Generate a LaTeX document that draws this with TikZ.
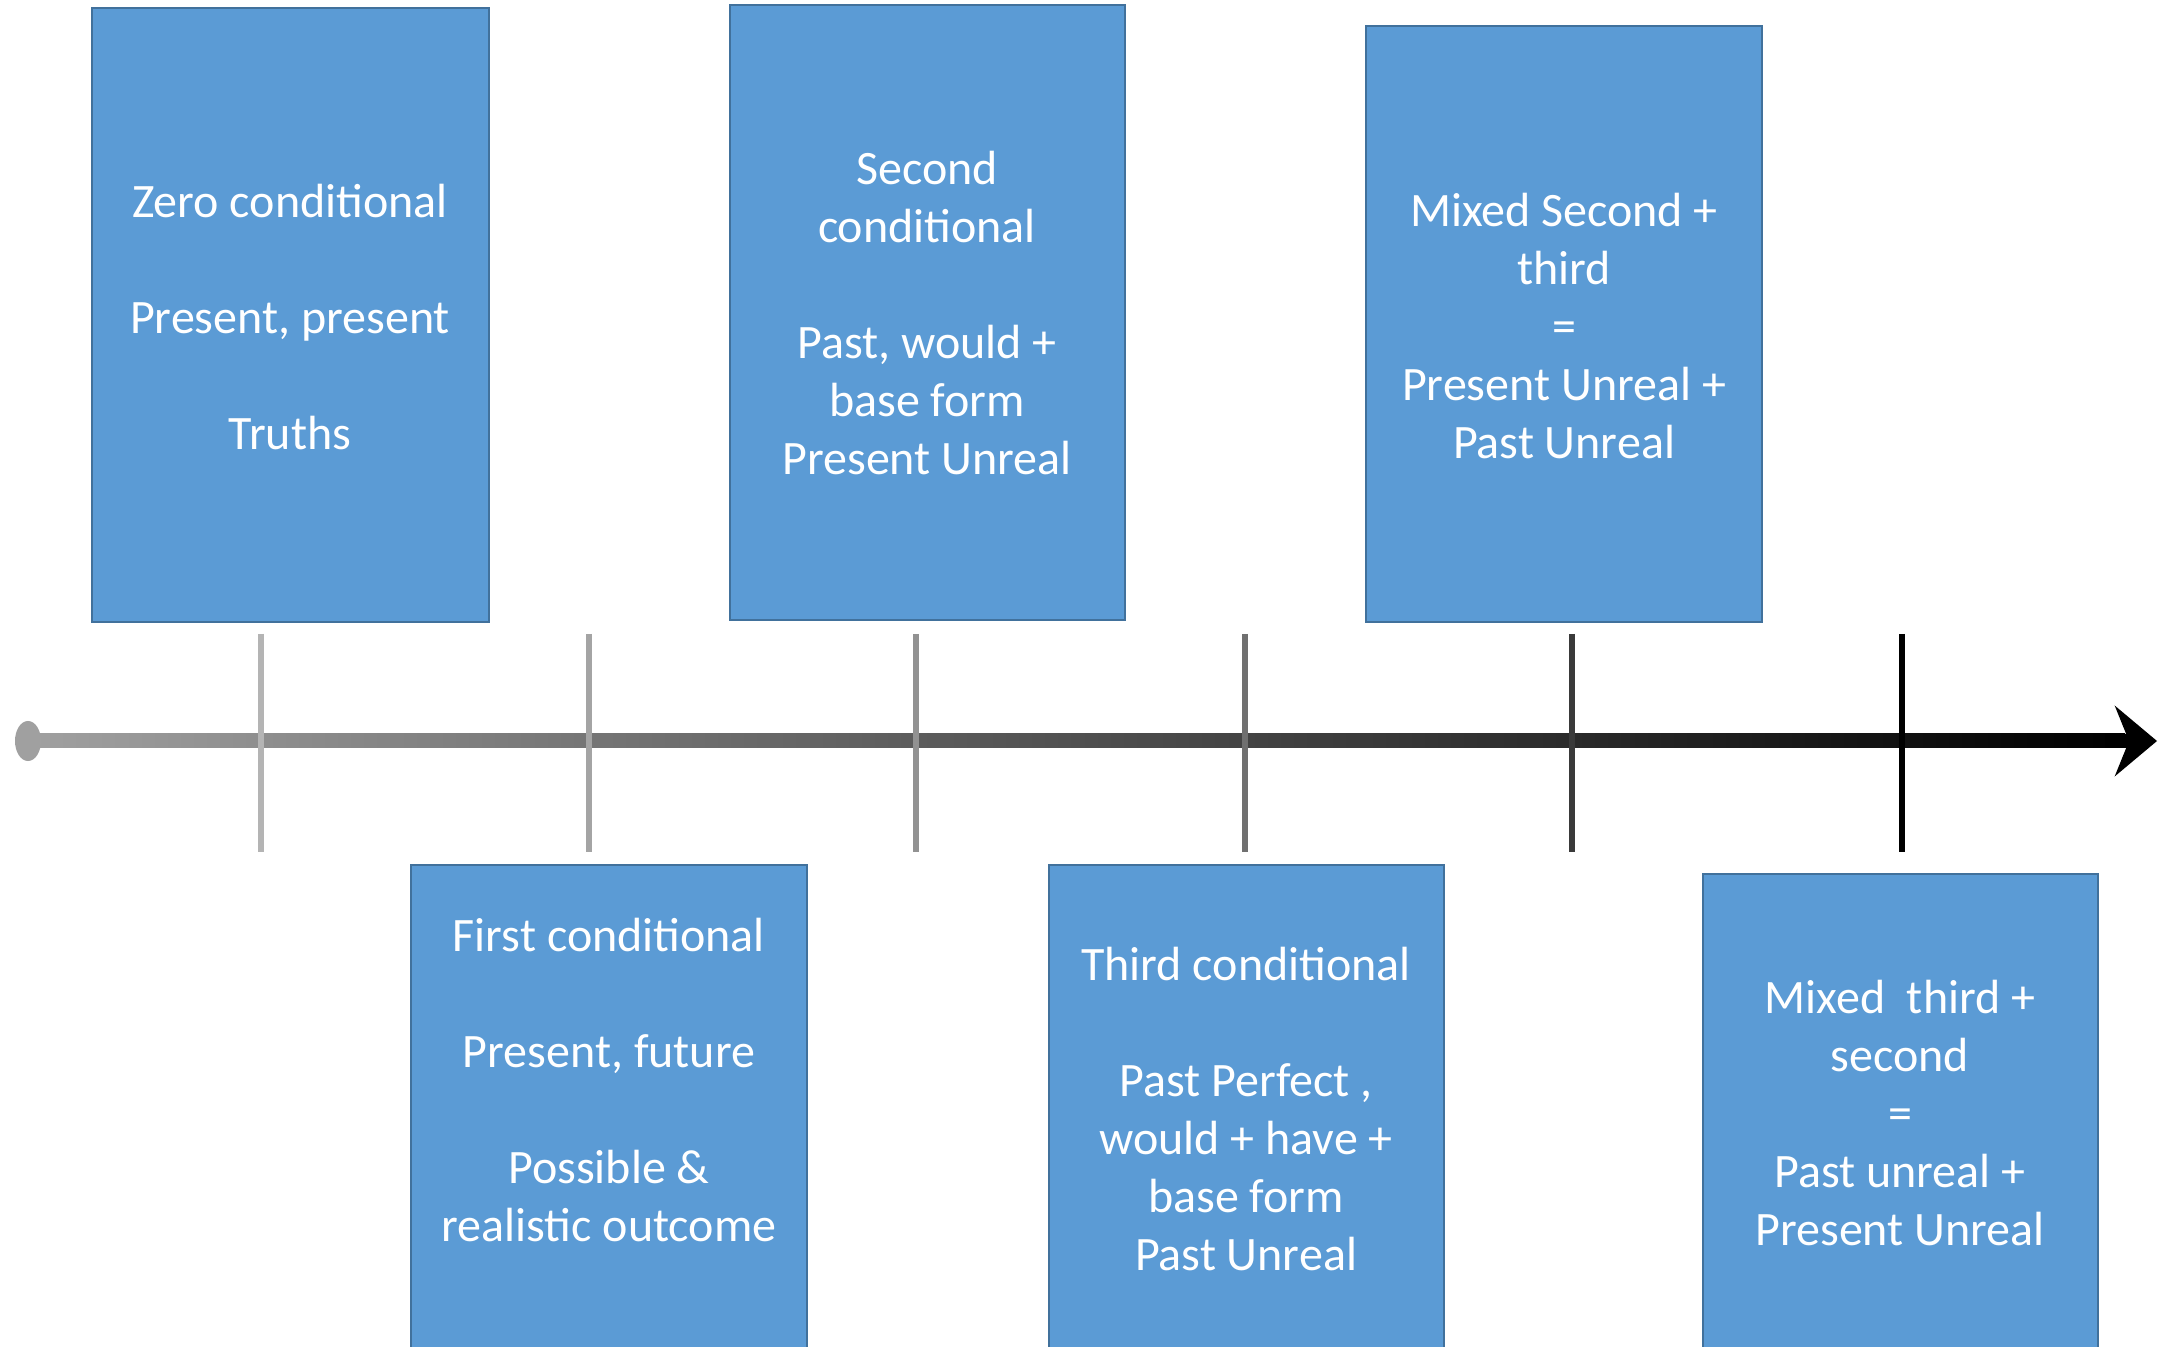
\documentclass[tikz,border=0pt]{standalone}
\usepackage{fontspec}
\setmainfont{Carlito}
\usetikzlibrary{arrows.meta}
\definecolor{boxfill}{HTML}{5B9BD5}
\definecolor{boxline}{HTML}{41719C}
\definecolor{tka}{HTML}{B4B4B4}
\definecolor{tkb}{HTML}{A4A4A4}
\definecolor{tkc}{HTML}{929292}
\definecolor{tkd}{HTML}{707070}
\definecolor{tke}{HTML}{3A3A3A}
\definecolor{tkf}{HTML}{000000}
\definecolor{axl}{HTML}{A0A0A0}
\definecolor{axm}{HTML}{7C7C7C}
\begin{document}
\begin{tikzpicture}[x=0.5pt,y=-0.5pt,
  cbox/.style={draw=boxline,line width=1.2pt,fill=boxfill},
  ctext/.style={text=white,align=center,inner sep=0pt,font=\fontsize{24}{29}\selectfont},
  tickline/.style={line width=3pt}]
\clip (0,0) rectangle (2164,1347);
\fill[white] (0,0) rectangle (2164,1347);
% boxes
\draw[cbox] (92,8) rectangle (489,622);
\draw[cbox] (730,5) rectangle (1125,620);
\draw[cbox] (1366,26) rectangle (1762,622);
\draw[cbox] (411,865) rectangle (807,1370);
\draw[cbox] (1049,865) rectangle (1444,1370);
\draw[cbox] (1703,874) rectangle (2098,1370);
% texts
\node[ctext] (t1) at (290,317) {Zero conditional\\[29pt]Present, present\\[29pt]Truths};
\node[ctext] (t2) at (927,313) {Second\\conditional\\[29pt]Past, would +\\base form\\Present Unreal};
\node[ctext] (t3) at (1564,326) {Mixed Second +\\third\\=\\Present Unreal +\\Past Unreal};
\node[ctext] (t4) at (609,1080) {First conditional\\[29pt]Present, future\\[29pt]Possible \&\\realistic outcome};
\node[ctext] (t5) at (1246,1109) {Third conditional\\[29pt]Past Perfect ,\\would + have +\\base form\\Past Unreal};
\node[ctext] (t6) at (1900,1113) {Mixed~~third +\\second\\=\\Past unreal +\\Present Unreal};
% axis
\coordinate (axL) at (28,741);
\coordinate (axR) at (2157,741);
\shade[left color=axl,middle color=axm,right color=black] (30,734) rectangle (2125,748);
\fill[axl] (axL) ellipse [x radius=13, y radius=20];
\draw[line width=7pt,-{Stealth[length=21pt,width=35pt,inset=7pt]}] (2105,741) -- (axR);
% ticks
\foreach \x/\c/\n in {261/tka/1,589/tkb/2,916/tkc/3,1245/tkd/4,1572/tke/5,1902/tkf/6}{
  \coordinate (tt\n) at (\x,634);
  \coordinate (tb\n) at (\x,852);
  \draw[tickline,draw=\c] (tt\n) -- (tb\n);
}
\end{tikzpicture}
\end{document}
